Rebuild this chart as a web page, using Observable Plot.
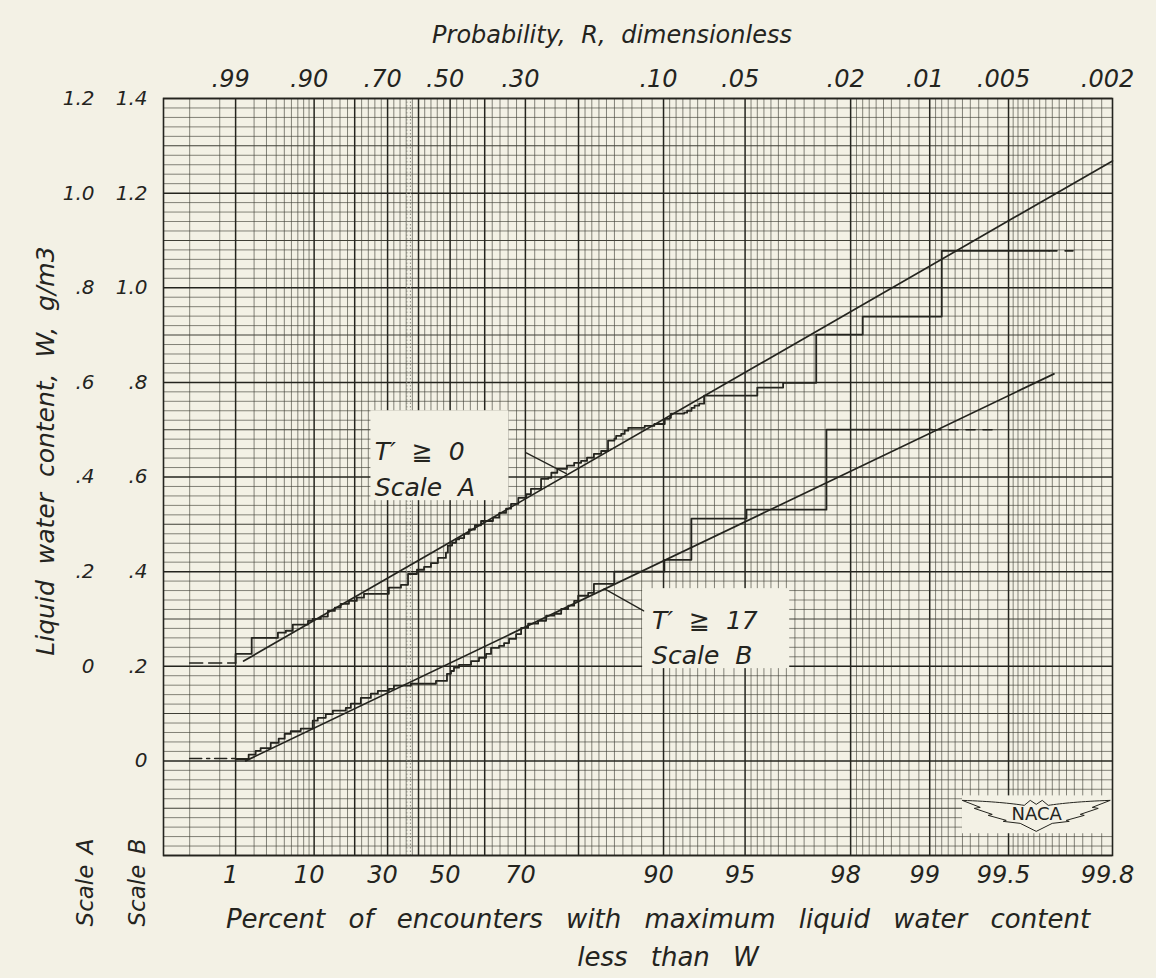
<!DOCTYPE html>
<html><head><meta charset="utf-8">
<script src="https://cdn.jsdelivr.net/npm/d3@7"></script>
<script src="https://cdn.jsdelivr.net/npm/@observablehq/plot@0.6"></script>
<style>
html,body{margin:0;padding:0;background:#f3f1e5;}
#chart svg text{font-family:"DejaVu Sans",sans-serif;font-style:italic;word-spacing:8px;}
#chart svg g.upright text{font-style:normal;word-spacing:0;}
#chart svg g.wide text{word-spacing:15px;}
#chart svg g.tight text{word-spacing:3px;}
</style></head>
<body><div id="chart"></div>
<script>
// ---------------- data ----------------
const pctTicks   = [1, 10, 30, 50, 70, 90, 95, 98, 99, 99.5, 99.8];
const pctLabels  = ["1","10","30","50","70","90","95","98","99","99.5","99.8"];
const probLabels = [".99",".90",".70",".50",".30",".10",".05",".02",".01",".005",".002"];
const scaleBTicks  = [0, 0.2, 0.4, 0.6, 0.8, 1.0, 1.2, 1.4];
const scaleBLabels = ["0",".2",".4",".6",".8","1.0","1.2","1.4"];
const scaleATicks  = [0, 0.2, 0.4, 0.6, 0.8, 1.0, 1.2];
const scaleALabels = ["0",".2",".4",".6",".8","1.0","1.2"];
const scaleAOffset = 0.2;           // Scale A reads 0.2 g/m3 below Scale B
const xDomainPct = [0.0166, 99.8];
const yDomain = [-0.2, 1.4];

// T' >= 0, Scale A : step curve (percent, W)
const curveA_pct = [1.0,1.0,1.84,4.2,5.2,6.2,8.8,9.7,11.4,13.0,14.7,16.2,18.4,20.6,22.7,30.4,34.3,36.6,39.5,41.8,44.0,46.2,48.7,49.3,50.6,51.8,52.7,54.2,55.6,57.3,59.0,62.2,63.8,65.5,66.7,68.4,70.2,71.2,73.3,74.7,75.3,76.4,78.1,79.3,80.4,81.3,82.3,83.3,84.2,85.0,85.2,85.8,86.2,86.6,88.3,89.2,90.1,90.5,90.6,91.6,91.8,92.1,92.3,92.6,92.9,95.5,96.4,97.3,98.2,99.1,99.65];
const curveA_w   = [0.007,0.026,0.060,0.071,0.075,0.088,0.096,0.100,0.105,0.117,0.124,0.132,0.138,0.145,0.153,0.166,0.172,0.195,0.204,0.210,0.218,0.229,0.240,0.255,0.261,0.268,0.271,0.280,0.289,0.298,0.307,0.314,0.324,0.333,0.343,0.356,0.364,0.375,0.396,0.398,0.409,0.417,0.424,0.430,0.434,0.441,0.449,0.455,0.477,0.481,0.487,0.491,0.498,0.504,0.508,0.512,0.523,0.525,0.534,0.536,0.540,0.546,0.551,0.555,0.572,0.589,0.599,0.701,0.739,0.878,0.878];
const dashA_left_pct  = [0.1, 1.0],    dashA_left_w  = [0.007, 0.007];
const dashA_right_pct = [99.65, 99.73], dashA_right_w = [0.878, 0.878];
const fitA_pct = [1.37, 99.8], fitA_w = [0.011, 1.068];

// T' >= 17, Scale B : step curve (percent, W)
const curveB_pct = [1.0,1.65,2.11,2.49,3.41,4.29,5.05,5.90,7.49,9.72,10.75,12.52,14.19,17.54,18.91,21.77,24.77,26.93,30.41,32.02,37.54,45.59,49.03,50.26,51.17,52.68,56.19,58.44,60.36,61.69,63.76,65.02,66.23,67.90,69.04,70.59,72.70,74.30,75.83,77.10,78.31,79.30,79.95,81.47,82.30,84.98,90.07,92.09,95.06,97.53,99.02];
const curveB_w   = [0.004,0.013,0.021,0.027,0.038,0.047,0.057,0.063,0.068,0.085,0.091,0.099,0.106,0.112,0.121,0.133,0.142,0.148,0.152,0.159,0.163,0.169,0.184,0.190,0.197,0.203,0.211,0.218,0.226,0.239,0.243,0.249,0.258,0.268,0.281,0.290,0.296,0.307,0.311,0.321,0.328,0.338,0.349,0.355,0.374,0.400,0.425,0.512,0.531,0.700,0.700];
const dashB_left_pct  = [0.1, 1.0],     dashB_left_w  = [0.005, 0.005];
const dashB_right_pct = [99.02, 99.46], dashB_right_w = [0.700, 0.700];
const fitB_pct = [1.48, 99.665], fitB_w = [0.0, 0.818];

// probability-paper rulings (percent)
function seq(a, b, s) { const out = []; for (let v = a; v <= b + 1e-9; v += s) out.push(+v.toFixed(3)); return out; }
const gridHeavyPct = [1, 10, 20, 30, 40, 50, 60, 70, 80, 90, 95, 98, 99, 99.5];
const gridLightPct = [0.1, 0.5, ...seq(2, 9, 1), ...seq(12, 18, 2), ...seq(22, 28, 2), ...seq(32, 38, 2),
  ...seq(42, 48, 2), ...seq(52, 58, 2), ...seq(62, 68, 2), ...seq(72, 78, 2), ...seq(81, 89, 1),
  ...seq(90.5, 94.5, 0.5), ...seq(95.25, 97.75, 0.25), ...seq(98.1, 98.9, 0.1), ...seq(99.05, 99.45, 0.05),
  ...seq(99.52, 99.78, 0.02)];
const modePct = 36.79;
const wRulings = seq(-10, 70, 1);   // in units of 0.02 g/m3 on scale B

// annotations (percent, scale-B W)
const labelBoxes = [
  {p1: 24.8, p2: 66.2, w1: 0.550, w2: 0.740},
  {p1: 88.1, p2: 96.6, w1: 0.195, w2: 0.364},
  {p1: 99.25, p2: 99.8, w1: -0.154, w2: -0.074}
];
const leaderA = [{p: 70.2, w: 0.651}, {p: 78.0, w: 0.607}];
const leaderB = [{p: 88.2, w: 0.317}, {p: 83.7, w: 0.364}];
const curveLabels = [
  {p: 26.0, w: 0.653, text: "T′ ≧ 0"},
  {p: 26.0, w: 0.577, text: "Scale A"},
  {p: 89.0, w: 0.296, text: "T′ ≧ 17"},
  {p: 89.0, w: 0.222, text: "Scale B"}
];
const logo = {p: 99.61, w: -0.112, text: "NACA"};

// ---------------- helpers ----------------
const gumbel = p => -Math.log(-Math.log(p / 100));
const zip = (ps, ws) => ps.map((p, i) => ({p, w: ws[i]}));
const INK = "#24241e", GRID = "#3f3f36", PAPER = "#f3f1e5";
const xTickU = pctTicks.map(gumbel);
const idxOf = d => xTickU.findIndex(v => Math.abs(v - d) < 1e-9);
const bIdx = d => scaleBTicks.findIndex(v => Math.abs(v - d) < 1e-9);
const aIdx = d => scaleATicks.findIndex(v => Math.abs(v - (d - scaleAOffset)) < 1e-9);
const X = d => gumbel(d.p);
const YA = d => d.w + scaleAOffset;
const YB = d => d.w;

const plot = Plot.plot({
  width: 1156, height: 978,
  marginLeft: 163, marginRight: 44, marginTop: 98, marginBottom: 123,
  style: {background: PAPER, color: INK},
  x: {domain: xDomainPct.map(gumbel), axis: null},
  y: {domain: yDomain, axis: null},
  marks: [
    // rulings
    Plot.ruleX(gridLightPct, {x: gumbel, stroke: GRID, strokeWidth: 0.7, strokeOpacity: 0.9}),
    Plot.ruleY(wRulings.filter(i => i % 5 !== 0), {y: i => i * 0.02, stroke: GRID, strokeWidth: 0.7, strokeOpacity: 0.9}),
    Plot.ruleY(wRulings.filter(i => i % 5 === 0 && i % 10 !== 0), {y: i => i * 0.02, stroke: GRID, strokeWidth: 1.1}),
    Plot.ruleY(wRulings.filter(i => i % 10 === 0), {y: i => i * 0.02, stroke: INK, strokeWidth: 1.5}),
    Plot.ruleX(gridHeavyPct, {x: gumbel, stroke: INK, strokeWidth: 1.5}),
    Plot.ruleX([modePct], {x: gumbel, dx: -1.8, stroke: "#8a8a80", strokeWidth: 1, strokeDasharray: "1.5,2"}),
    Plot.ruleX([modePct], {x: gumbel, dx: 1.8, stroke: "#8a8a80", strokeWidth: 1, strokeDasharray: "1.5,2"}),
    // label masks
    Plot.rect(labelBoxes, {x1: d => gumbel(d.p1), x2: d => gumbel(d.p2), y1: "w1", y2: "w2", fill: PAPER}),
    Plot.frame({stroke: INK, strokeWidth: 1.6}),
    // fitted lines
    Plot.line(zip(fitA_pct, fitA_w), {x: X, y: YA, stroke: INK, strokeWidth: 1.7}),
    Plot.line(zip(fitB_pct, fitB_w), {x: X, y: YB, stroke: INK, strokeWidth: 1.7}),
    // step curves
    Plot.line(zip(curveA_pct, curveA_w), {x: X, y: YA, curve: "step-after", stroke: INK, strokeWidth: 1.8}),
    Plot.line(zip(curveB_pct, curveB_w), {x: X, y: YB, curve: "step-after", stroke: INK, strokeWidth: 1.8}),
    Plot.line(zip(dashA_left_pct, dashA_left_w), {x: X, y: YA, stroke: INK, strokeWidth: 1.6, strokeDasharray: "13,6"}),
    Plot.line(zip(dashA_right_pct, dashA_right_w), {x: X, y: YA, stroke: INK, strokeWidth: 1.6, strokeDasharray: "8,8"}),
    Plot.line(zip(dashB_left_pct, dashB_left_w), {x: X, y: YB, stroke: INK, strokeWidth: 1.6, strokeDasharray: "12,5,3,5"}),
    Plot.line(zip(dashB_right_pct, dashB_right_w), {x: X, y: YB, stroke: INK, strokeWidth: 1.6, strokeDasharray: "9,8"}),
    // leaders and labels
    Plot.line(leaderA, {x: X, y: YB, stroke: INK, strokeWidth: 1.3}),
    Plot.line(leaderB, {x: X, y: YB, stroke: INK, strokeWidth: 1.3}),
    Plot.text(curveLabels, {x: X, y: YB, text: "text", textAnchor: "start", fontSize: 25, fill: INK}),
    Plot.text([logo], {x: X, y: YB, text: "text", fontSize: 18, fill: INK, className: "upright"}),
    // axes
    Plot.axisX(xTickU, {anchor: "top", tickSize: 0, tickPadding: 12, tickFormat: d => probLabels[idxOf(d)], fontSize: 24, label: null, dx: -5}),
    Plot.axisX(xTickU, {anchor: "bottom", tickSize: 0, tickPadding: 10, tickFormat: d => pctLabels[idxOf(d)], fontSize: 24, label: null, dx: -5}),
    Plot.axisY(scaleBTicks, {anchor: "left", tickSize: 0, tickPadding: 16, tickFormat: d => scaleBLabels[bIdx(d)], fontSize: 20, label: null}),
    Plot.axisY(scaleATicks.map(v => v + scaleAOffset), {anchor: "left", tickSize: 0, tickPadding: 69, tickFormat: d => scaleALabels[aIdx(d)], fontSize: 20, label: null}),
    // titles
    Plot.text(["Probability, R, dimensionless"], {text: d => d, frameAnchor: "top", dx: -26, dy: -73, fontSize: 24, fill: INK}),
    Plot.text(["Percent of encounters with maximum liquid water content"], {text: d => d, frameAnchor: "bottom", textAnchor: "middle", dx: 20, dy: 72, fontSize: 26, fill: INK, className: "wide"}),
    Plot.text(["less than W"], {text: d => d, frameAnchor: "bottom", textAnchor: "middle", dx: 30, dy: 110, fontSize: 26, fill: INK, className: "wide"}),
    Plot.text(["Liquid water content, W, g/m3"], {text: d => d, frameAnchor: "left", textAnchor: "middle", rotate: -90, dx: -118, dy: -26, fontSize: 25, fill: INK}),
    Plot.text(["Scale A"], {text: d => d, frameAnchor: "bottom-left", textAnchor: "middle", rotate: -90, dx: -71, dy: 27, fontSize: 23, fill: INK, className: "tight"}),
    Plot.text(["Scale B"], {text: d => d, frameAnchor: "bottom-left", textAnchor: "middle", rotate: -90, dx: -19, dy: 27, fontSize: 23, fill: INK, className: "tight"})
  ]
});
document.getElementById("chart").append(plot);

// NACA wing emblem drawn around the logo text position
const sx = plot.scale("x"), sy = plot.scale("y");
const cx = sx.apply(gumbel(logo.p)), cy = sy.apply(logo.w);
d3.select(plot).append("path")
  .attr("transform", `translate(${cx},${cy})`)
  .attr("d", "M-74,-13 C-45,-12 -25,-10 -12,-8 L-6,-13 L0,-9 L6,-13 L12,-8 C25,-10 45,-12 74,-13 L56,-6 L62,-5 L44,1 L48,2 L30,7 L33,8 L16,10 L0,18 L-16,10 L-33,8 L-30,7 L-48,2 L-44,1 L-62,-5 L-56,-6 Z")
  .attr("fill", "none").attr("stroke", INK).attr("stroke-width", 1);
</script>
</body></html>
